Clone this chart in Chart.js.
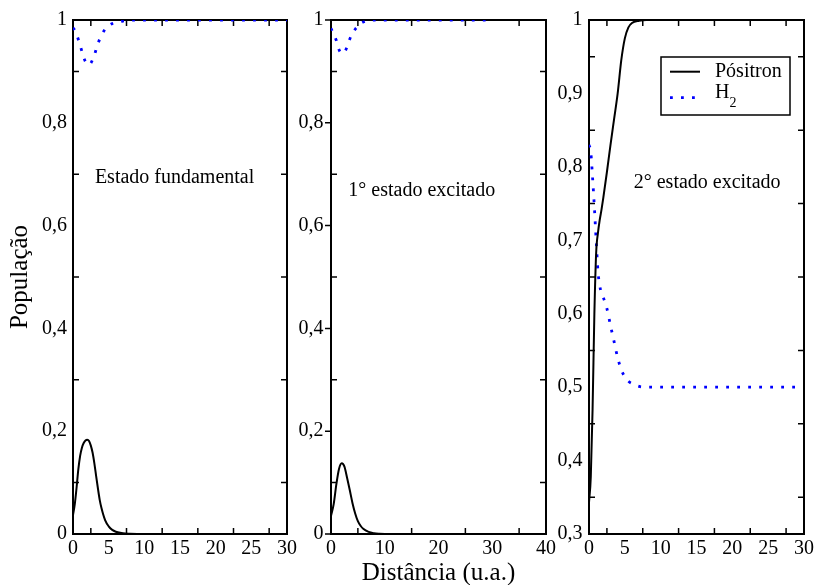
<!DOCTYPE html>
<html>
<head>
<meta charset="utf-8">
<script src="https://cdn.jsdelivr.net/npm/chart.js@4/dist/chart.umd.min.js"></script>
<style>
  html, body { margin: 0; padding: 0; background: #fff; }
  #wrap { position: relative; width: 817px; height: 585px; overflow: hidden; background: #fff; }
  #wrap canvas { position: absolute; top: 0; }
</style>
</head>
<body>
<div id="wrap">
  <canvas id="p1" width="300" height="585" style="left:0px;width:300px;height:585px"></canvas>
  <canvas id="p2" width="270" height="585" style="left:290px;width:270px;height:585px"></canvas>
  <canvas id="p3" width="267" height="585" style="left:550px;width:267px;height:585px"></canvas>
</div>
<script>
// ---------- data: population vs. distance (u.a.) ----------

// Estado fundamental
const xFund   = [0, 0.25, 0.5, 0.75, 1, 1.25, 1.5, 1.75, 2, 2.25, 2.5, 2.75, 3, 3.25, 3.5, 3.75, 4, 4.5, 5, 5.5, 6, 7, 8, 9, 10, 15, 20, 25, 30];
const posFund = [0.037, 0.058, 0.09, 0.126, 0.152, 0.168, 0.177, 0.182, 0.1835, 0.181, 0.172, 0.158, 0.137, 0.112, 0.088, 0.066, 0.050, 0.027, 0.015, 0.008, 0.0045, 0.0015, 0.0005, 0.0001, 0, 0, 0, 0, 0];
const h2Fund  = [0.985, 0.98, 0.972, 0.962, 0.951, 0.939, 0.927, 0.919, 0.914, 0.913, 0.916, 0.923, 0.932, 0.943, 0.954, 0.963, 0.970, 0.982, 0.989, 0.993, 0.995, 0.998, 0.9995, 1, 1, 1, 1, 1, 1];

// 1° estado excitado
const xExc1   = [0, 0.5, 1, 1.5, 2, 2.5, 3, 3.5, 4, 4.5, 5, 5.5, 6, 7, 8, 9, 10, 11, 15, 20, 25, 30];
const posExc1 = [0.035, 0.058, 0.097, 0.127, 0.1375, 0.131, 0.109, 0.085, 0.060, 0.040, 0.025, 0.016, 0.010, 0.004, 0.0015, 0.0005, 0.0001, 0, 0, 0, 0, 0];
const h2Exc1  = [0.984, 0.972, 0.960, 0.942, 0.935, 0.937, 0.948, 0.963, 0.974, 0.982, 0.988, 0.993, 0.996, 0.999, 1, 1, 1, 1, 1, 1, 1, 1];

// 2° estado excitado
const xExc2   = [0, 0.25, 0.5, 0.75, 1, 1.25, 1.5, 1.75, 2, 2.5, 3, 3.5, 4, 4.5, 5, 5.5, 6, 7, 8, 9, 10, 15, 20, 25, 29];
const posExc2 = [0.343, 0.378, 0.47, 0.6, 0.683, 0.71, 0.728, 0.742, 0.758, 0.793, 0.83, 0.865, 0.90, 0.945, 0.975, 0.99, 0.996, 0.999, 1, 1, 1, 1, 1, 1, 1];
const h2Exc2  = [0.83, 0.82, 0.785, 0.745, 0.70, 0.658, 0.638, 0.628, 0.622, 0.607, 0.584, 0.562, 0.540, 0.524, 0.514, 0.508, 0.505, 0.501, 0.5, 0.5, 0.5, 0.5, 0.5, 0.5, 0.5];

// names and labels
const seriesNames = ['Pósitron', 'H₂'];
const panelNotes  = ['Estado fundamental', '1° estado excitado', '2° estado excitado'];
const xTitle = 'Distância (u.a.)';
const yTitle = 'População';

// tick values
const xTicks30 = [0, 5, 10, 15, 20, 25, 30];
const xTicks40 = [0, 10, 20, 30, 40];
const yTicksFull = [0, 0.2, 0.4, 0.6, 0.8, 1];
const yTicksUpper = [0.3, 0.4, 0.5, 0.6, 0.7, 0.8, 0.9, 1];

// ---------- helpers ----------
const serif = '"Liberation Serif", "Times New Roman", Times, serif';
Chart.defaults.font.family = serif;
Chart.defaults.color = '#000';

const pts = (xs, ys) => xs.map((x, i) => ({ x, y: ys[i] }));
const fmt = v => String(+Number(v).toFixed(2)).replace('.', ',');

function lineSet(label, data, dotted) {
  return {
    label,
    data,
    borderColor: dotted ? '#0000ff' : '#000000',
    borderWidth: dotted ? 2.8 : 2,
    borderDash: dotted ? [2.8, 8.2] : [],
    borderCapStyle: 'butt',
    pointRadius: 0,
    pointHoverRadius: 0,
    cubicInterpolationMode: 'monotone',
    fill: false
  };
}

// text with a trailing subscript digit (e.g. H₂)
function drawLabel(ctx, text, x, y, size) {
  const m = text.match(/^(.*?)([₀-₉])$/);
  ctx.font = size + 'px ' + serif;
  if (!m) { ctx.fillText(text, x, y); return; }
  ctx.fillText(m[1], x, y);
  const w = ctx.measureText(m[1]).width;
  ctx.font = Math.round(size * 0.7) + 'px ' + serif;
  ctx.fillText(String(m[2].charCodeAt(0) - 0x2080), x + w, y + 8.5);
}

// frame, inner minor ticks, panel caption and legend
const panelDecor = {
  id: 'panelDecor',
  beforeDatasetsDraw(chart, args, o) {
    const { ctx, chartArea: a, scales: { x, y } } = chart;
    const mids = ticks => ticks.slice(1).map((t, i) => (t.value + ticks[i].value) / 2);
    ctx.save();
    ctx.strokeStyle = '#000';
    ctx.lineWidth = 1.5;
    ctx.beginPath();
    for (const v of mids(x.ticks)) {
      const px = x.getPixelForValue(v);
      ctx.moveTo(px, a.bottom); ctx.lineTo(px, a.bottom - o.minorLen);
      ctx.moveTo(px, a.top);    ctx.lineTo(px, a.top + o.minorLen);
    }
    for (const v of mids(y.ticks)) {
      const py = y.getPixelForValue(v);
      ctx.moveTo(a.left, py);  ctx.lineTo(a.left + o.minorLen, py);
      ctx.moveTo(a.right, py); ctx.lineTo(a.right - o.minorLen, py);
    }
    if (o.majorOut) {
      for (const t of y.ticks) {
        const py = y.getPixelForValue(t.value);
        ctx.moveTo(a.left, py); ctx.lineTo(a.left - o.majorOut, py);
      }
    }
    ctx.stroke();
    ctx.lineWidth = 2;
    ctx.strokeRect(a.left, a.top, a.width, a.height);
    if (o.note) {
      ctx.fillStyle = '#000';
      ctx.textAlign = 'left';
      ctx.textBaseline = 'alphabetic';
      ctx.font = '20px ' + serif;
      ctx.fillText(o.note.text, x.getPixelForValue(o.note.x), y.getPixelForValue(o.note.y));
    }
    ctx.restore();
  },
  afterDatasetsDraw(chart, args, o) {
    if (!o.legend) return;
    const { ctx, chartArea: a } = chart;
    const bx = a.right - 143, by = a.top + 37, bw = 129, bh = 58;
    const rows = [{ line: 14.7, text: 19.5 }, { line: 40.7, text: 41.2 }];
    ctx.save();
    ctx.fillStyle = '#fff';
    ctx.fillRect(bx, by, bw, bh);
    ctx.strokeStyle = '#000';
    ctx.lineWidth = 1.5;
    ctx.strokeRect(bx, by, bw, bh);
    chart.data.datasets.forEach((ds, i) => {
      const r = rows[i];
      ctx.beginPath();
      ctx.strokeStyle = ds.borderColor;
      ctx.lineWidth = ds.borderWidth;
      ctx.lineCap = 'butt';
      ctx.setLineDash(ds.borderDash);
      ctx.moveTo(bx + 9, by + r.line);
      ctx.lineTo(bx + (ds.borderDash.length ? 36 : 39), by + r.line);
      ctx.stroke();
      ctx.setLineDash([]);
      ctx.fillStyle = '#000';
      ctx.textAlign = 'left';
      ctx.textBaseline = 'alphabetic';
      drawLabel(ctx, ds.label, bx + 54, by + r.text, 20);
    });
    ctx.restore();
  }
};

function makePanel(id, cfg) {
  const tickFont = { family: serif, size: 20 };
  return new Chart(document.getElementById(id), {
    type: 'line',
    data: {
      datasets: [
        lineSet(seriesNames[0], pts(cfg.xs, cfg.pos), false),
        lineSet(seriesNames[1], pts(cfg.xs, cfg.h2), true)
      ]
    },
    options: {
      responsive: false,
      animation: false,
      events: [],
      layout: { padding: { top: 20, right: cfg.padRight, bottom: 0, left: 0 } },
      plugins: {
        legend: { display: false },
        tooltip: { enabled: false },
        panelDecor: {
          minorLen: 6,
          majorOut: cfg.majorOut || 0,
          note: cfg.note,
          legend: cfg.legend || false
        }
      },
      scales: {
        x: {
          type: 'linear',
          min: cfg.xTicks[0],
          max: cfg.xTicks[cfg.xTicks.length - 1],
          afterBuildTicks: s => { s.ticks = cfg.xTicks.map(v => ({ value: v })); },
          afterFit: s => { s.height = 51; },
          border: { display: false },
          grid: { display: false, drawTicks: false },
          ticks: { font: tickFont, color: '#000', padding: 3, maxRotation: 0, autoSkip: false, callback: fmt },
          title: cfg.xTitle ? { display: true, text: cfg.xTitle, color: '#000', font: { family: serif, size: 25 }, padding: { top: 0, bottom: -3 } } : { display: false }
        },
        y: {
          type: 'linear',
          min: cfg.yTicks[0],
          max: cfg.yTicks[cfg.yTicks.length - 1],
          afterBuildTicks: s => { s.ticks = cfg.yTicks.map(v => ({ value: v })); },
          afterFit: s => { s.width = cfg.yWidth; },
          border: { display: false },
          grid: { display: false, drawTicks: false },
          ticks: { font: tickFont, color: '#000', padding: cfg.yPad, autoSkip: false, callback: fmt },
          title: cfg.yTitle ? { display: true, text: cfg.yTitle, color: '#000', font: { family: serif, size: 25 }, padding: { top: 5, bottom: 0 } } : { display: false }
        }
      }
    },
    plugins: [panelDecor]
  });
}

makePanel('p1', {
  xs: xFund, pos: posFund, h2: h2Fund,
  xTicks: xTicks30, yTicks: yTicksFull,
  yWidth: 73, padRight: 12, yPad: 6,
  yTitle: yTitle,
  note: { text: panelNotes[0], x: 3.07, y: 0.682 }
});

makePanel('p2', {
  xs: xExc1, pos: posExc1, h2: h2Exc1,
  xTicks: xTicks40, yTicks: yTicksFull,
  yWidth: 41, padRight: 14, yPad: 7.5,
  majorOut: 6,
  xTitle: xTitle,
  note: { text: panelNotes[1], x: 3.22, y: 0.658 }
});

makePanel('p3', {
  xs: xExc2, pos: posExc2, h2: h2Exc2,
  xTicks: xTicks30, yTicks: yTicksUpper,
  yWidth: 39, padRight: 13, yPad: 6.5,
  note: { text: panelNotes[2], x: 6.24, y: 0.771 },
  legend: true
});
</script>
</body>
</html>
